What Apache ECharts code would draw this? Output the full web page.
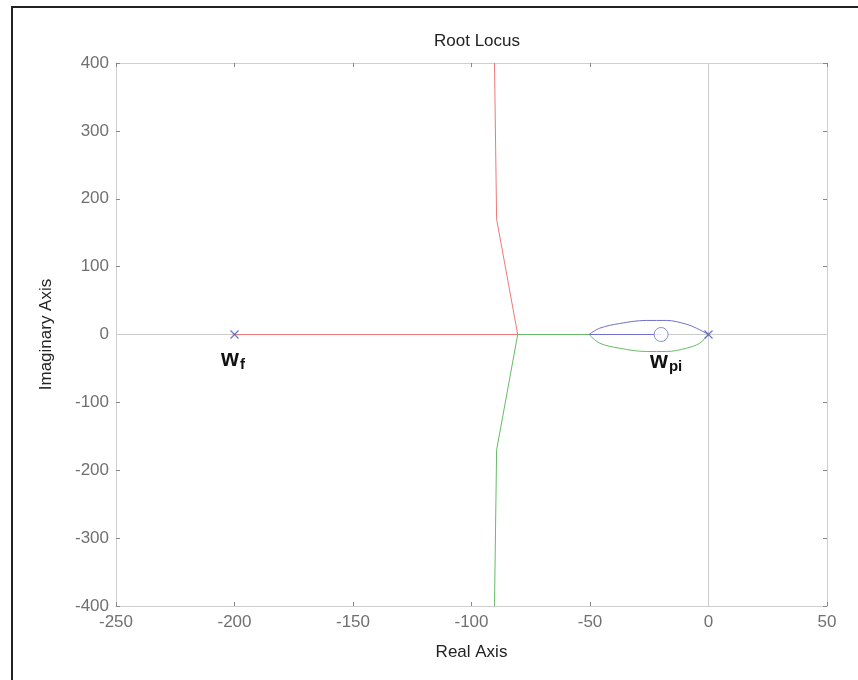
<!DOCTYPE html>
<html><head><meta charset="utf-8">
<script src="https://cdn.jsdelivr.net/npm/echarts@6/dist/echarts.min.js"></script>
<style>html,body{margin:0;padding:0;background:#fff}#c{width:858px;height:680px}</style>
</head><body><div id="c"></div>
<script>
// Root locus branches (real, imag)
var redBranch = [[-200,0],[-80.5,0],[-89.4,170],[-90.3,400]];
var greenLoop = [[0,0],[-3.7,-12.8],[-9.3,-20.2],[-17.7,-25],[-26.2,-25],[-37.5,-20.2],[-45.9,-12.8],[-50.4,0]];
var greenReal = [[-50.4,0],[-80.5,0]];
var greenBranch = [[-80.5,0],[-89.4,-170],[-90.3,-400]];
var blueLoop = [[0,0],[-5.1,9.3],[-9.3,15.2],[-17.7,20.7],[-26.2,20.7],[-37.5,16.2],[-45.9,9.3],[-50.4,0]];
var blueReal = [[-50.4,0],[-20,0]];
var poles = [[-200,0],[0,0]];
var zeros = [[-20,0]];
var realZeroLine = [[-250,0],[50,0]];
var imagZeroLine = [[0,-400],[0,400]];

var chart = echarts.init(document.getElementById('c'));
var FONT = '"Liberation Sans", Arial, Helvetica, sans-serif';
function lineSeries(data, color, smooth, z){
  return {type:'line', data:data, showSymbol:false, symbol:'none', smooth:smooth||false,
    lineStyle:{color:color, width:1}, silent:true, animation:false, z:z||3};
}
var axisCommon = {
  axisLine:{show:true, onZero:false, lineStyle:{color:'#cfcfcf', width:1}},
  axisTick:{show:true, inside:true, length:4, lineStyle:{color:'#888'}},
  splitLine:{show:false}
};
var richLbl = {a:{fontFamily:FONT, fontSize:23, fontWeight:'bold', fill:'#111'},
               b:{fontFamily:FONT, fontSize:15, fontWeight:'bold', fill:'#111', padding:[11,0,0,1]}};
chart.setOption({
  animation:false,
  backgroundColor:'#fff',
  title:{text:'Root Locus', left:472, top:28, textAlign:'center',
    textStyle:{fontFamily:FONT, fontSize:17, fontWeight:'normal', color:'#222'}},
  grid:{left:116, right:31, top:63, bottom:74},
  xAxis:[
    Object.assign({type:'value', min:-250, max:50, interval:50, position:'bottom',
      name:'Real Axis', nameLocation:'middle', nameGap:38,
      nameTextStyle:{fontFamily:FONT, fontSize:17, color:'#222'},
      axisLabel:{fontFamily:FONT, fontSize:17, color:'#707070', margin:8}}, axisCommon),
    Object.assign({type:'value', min:-250, max:50, interval:50, position:'top',
      axisLabel:{show:false}}, axisCommon)
  ],
  yAxis:[
    Object.assign({type:'value', min:-400, max:400, interval:100, position:'left',
      name:'Imaginary Axis', nameLocation:'middle', nameGap:61, nameRotate:90,
      nameTextStyle:{fontFamily:FONT, fontSize:17, color:'#222'},
      axisLabel:{fontFamily:FONT, fontSize:17, color:'#707070', margin:7}}, axisCommon),
    Object.assign({type:'value', min:-400, max:400, interval:100, position:'right',
      axisLabel:{show:false}}, axisCommon)
  ],
  graphic:[
    {type:'rect', shape:{x:12, y:7, width:900, height:720}, style:{fill:'none', stroke:'#222', lineWidth:2}, silent:true, z:100},
    {type:'text', left:221, top:348, style:{rich:richLbl, text:'{a|w}{b|f}'}},
    {type:'text', left:650, top:350, style:{rich:richLbl, text:'{a|w}{b|pi}'}}
  ],
  series:[
    lineSeries(realZeroLine, '#cccccc', false, 1),
    lineSeries(imagZeroLine, '#cccccc', false, 1),
    lineSeries(redBranch, '#f07878'),
    lineSeries(greenLoop, '#66bb66', 0.35),
    lineSeries(greenReal, '#66bb66'),
    lineSeries(greenBranch, '#66bb66'),
    lineSeries(blueLoop, '#7070cc', 0.35),
    lineSeries(blueReal, '#7070cc'),
    {type:'scatter', data:poles, symbol:'path://M0,0 L10,10 M10,0 L0,10', symbolSize:8,
      itemStyle:{color:'none', borderColor:'#4455bb', borderWidth:1.2}, silent:true, z:5},
    {type:'scatter', data:zeros, symbol:'circle', symbolSize:14,
      itemStyle:{color:'#ffffff', borderColor:'#6677cc', borderWidth:1}, silent:true, z:4}
  ]
});
</script></body></html>
